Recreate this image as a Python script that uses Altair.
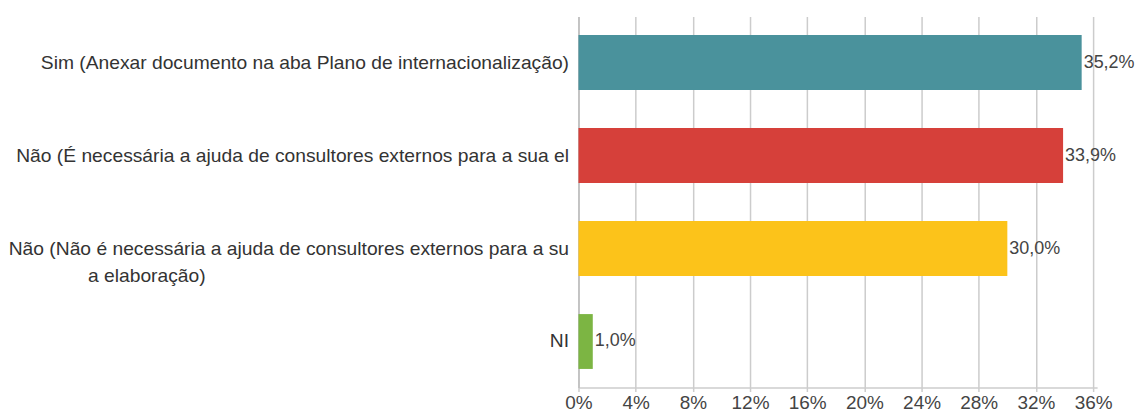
import altair as alt
import pandas as pd

categories = [
    "Sim (Anexar documento na aba Plano de internacionalização)",
    "Não (É necessária a ajuda de consultores externos para a sua el",
    "Não (Não é necessária a ajuda de consultores externos para a su|a elaboração)",
    "NI",
]
values = [35.2, 33.9, 30.0, 1.0]
colors = ["#4a929c", "#d6403a", "#fcc31a", "#7cb543"]
x_ticks = [0, 4, 8, 12, 16, 20, 24, 28, 32, 36]

df = pd.DataFrame({"cat": categories, "val": values, "color": colors})

FONT = "Liberation Sans"
PAD = "\u00a0" * 68 + "\u200b"

y_enc = alt.Y(
    "cat:N",
    sort=categories,
    scale=alt.Scale(paddingInner=0.41, paddingOuter=0.2),
    axis=alt.Axis(
        title=None,
        ticks=False,
        domain=True,
        domainColor="#bdbdbd",
        domainWidth=1.5,
        labelFont=FONT,
        labelFontSize=19.3,
        labelColor="#333333",
        labelPadding=10,
        labelLimit=0,
        labelLineHeight=28,
        labelExpr=(
            "indexof(datum.value, '|') >= 0 ? [split(datum.value, '|')[0], split(datum.value, '|')[1] + '"
            + PAD
            + "'] : datum.value"
        ),
    ),
)

x_enc = alt.X(
    "val:Q",
    scale=alt.Scale(domain=[0, 36.28], nice=False),
    axis=alt.Axis(
        title=None,
        values=x_ticks,
        labelExpr="datum.value + '%'",
        labelFont=FONT,
        labelFontSize=19,
        labelColor="#444444",
        labelFlush=False,
        grid=True,
        gridColor="#cccccc",
        gridWidth=1.5,
        domainColor="#cccccc",
        domainWidth=1.5,
        tickColor="#cccccc",
        tickSize=4,
        tickWidth=1.5,
        labelPadding=2,
    ),
)

bars = alt.Chart(df).mark_bar(size=55).encode(
    y=y_enc,
    x=x_enc,
    color=alt.Color("color:N", scale=None),
)

texts = alt.Chart(df).transform_calculate(
    lab="replace(format(datum.val, '.1f'), '.', ',') + '%'"
).mark_text(
    align="left", baseline="middle", dx=2, font=FONT, fontSize=18, color="#444444"
).encode(
    y=alt.Y("cat:N", sort=categories),
    x="val:Q",
    text="lab:N",
)

chart = (
    alt.layer(bars, texts)
    .properties(
        width=520,
        height=372,
        autosize=alt.AutoSizeParams(type="none"),
        padding={"left": 572, "top": 8, "right": 40, "bottom": 30},
    )
    .configure_view(stroke=None)
)

chart.save("out.html", embed_options={"renderer": "svg", "actions": False})
